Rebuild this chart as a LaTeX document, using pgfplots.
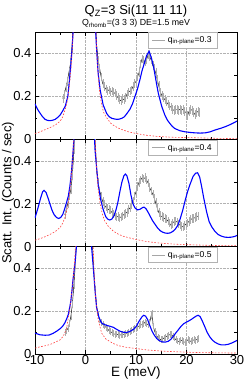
\documentclass[border=0pt]{standalone}
\usepackage{pgfplots}
\pgfplotsset{compat=1.18}
\usepackage{fontspec}
\setmainfont{Liberation Sans}
\pgfplotsset{
  panel/.style={
    scale only axis, width=202pt, height=107.3pt,
    xmin=-10, xmax=30, ymin=0, ymax=0.5,
    xtick={-10,0,10,20,30}, minor xtick={-5,5,15,25},
    ytick={0,0.2,0.4}, minor ytick={0.1,0.3},
    grid=major, major grid style={densely dotted, gray!60, line width=0.4pt},
    tick style={black, line width=0.5pt},
    major tick length=4pt, minor tick length=2.5pt,
    axis line style={line width=0.8pt},
    tick label style={font=\fontsize{13}{14}\selectfont},
    /pgf/number format/assume math mode=true,
    yticklabel style={/pgf/number format/fixed},
    legend image code/.code={\draw[##1] (0pt,0pt) -- (13pt,0pt);},
    legend style={at={(rel axis cs:0.906,0.997)}, anchor=north east,
      draw=gray!60, line width=0.8pt, font=\fontsize{8.6}{9}\selectfont,
      inner xsep=4pt, inner ysep=2pt, legend cell align=left},
  },
  blueline/.style={blue, line width=1.1pt, no marks},
  redline/.style={red!75, line width=0.6pt, no marks, dash pattern=on 1.6pt off 1.6pt},
  dataline/.style={black, line width=0.45pt, no marks,
    error bars/.cd, y dir=both, y fixed=#1, error mark=none,
    error bar style={gray!65, line width=0.3pt}},
}
\begin{document}
\begin{tikzpicture}
\path[use as bounding box] (-35pt,-349pt) rectangle (210pt,32pt);
% ---------------- top panel q=0.3
\begin{axis}[panel, at={(0pt,0pt)}, anchor=north west, xticklabels={},
  title={\fontsize{13}{14}\selectfont Q\textsubscript{Z}=3 Si(11 11 11)\\[-1pt]\fontsize{8.8}{10}\selectfont Q\textsubscript{rhomb}=(3 3 3) DE=1.5 meV},
  title style={align=center, yshift=-5pt}]
\addlegendimage{gray!70, line width=1pt}
\addlegendentry{q\textsubscript{in-plane}=0.3}
\addplot[dataline=0.02] coordinates {
(-4.5,0.19) (-4.2,0.21) (-3.9,0.24) (-3.6,0.27) (-3.3,0.31) (-3.0,0.35) (-2.7,0.42)
(-2.4,0.55) (-2.0,0.9) (-1,2.5) (0,3) (1,2.5) (1.6,1.0) (1.9,0.60) (2.2,0.44) (2.5,0.37)
(2.8,0.33) (3.1,0.29) (3.4,0.26) (3.7,0.245) (4.0,0.235) (4.3,0.225) (4.6,0.23) (4.9,0.22)
(5.2,0.225) (5.5,0.22) (5.8,0.215) (6.1,0.205) (6.4,0.195) (6.7,0.185) (7.0,0.18) (7.3,0.19)
(7.6,0.185) (7.9,0.195) (8.2,0.21) (8.5,0.22) (8.8,0.225) (9.1,0.23) (9.4,0.245) (9.7,0.26)
(10.0,0.27) (10.3,0.29) (10.6,0.31) (10.9,0.35) (11.2,0.375) (11.5,0.37) (11.8,0.36)
(12.1,0.37) (12.4,0.395) (12.7,0.385) (13.0,0.37) (13.3,0.345) (13.6,0.33) (13.9,0.31)
(14.2,0.28) (14.5,0.25) (14.8,0.22) (15.1,0.205) (15.4,0.195) (15.7,0.185) (16.0,0.175)
(16.3,0.165) (16.6,0.155) (16.9,0.15) (17.2,0.14) (17.5,0.135) (17.8,0.14) (18.1,0.14)
(18.4,0.135) (18.7,0.14) (19.0,0.135) (19.3,0.14) (19.6,0.13) (19.9,0.125) (20.2,0.11)
(20.5,0.13) (20.8,0.14) (21.1,0.135) (21.4,0.125) (21.7,0.115) (22.0,0.125) (22.3,0.13) (22.6,0.125)};
\addplot[blueline] coordinates {
(-10,0.165) (-9.5,0.14) (-9,0.122) (-8.5,0.105) (-8,0.093) (-7.5,0.088) (-7,0.087)
(-6.5,0.089) (-6,0.093) (-5.5,0.102) (-5,0.114) (-4.5,0.133) (-4,0.155) (-3.5,0.2)
(-3.2,0.27) (-2.9,0.35) (-2.7,0.41) (-2.4,0.52) (-2.1,0.75) (-1.5,2) (0,4) (1.2,2)
(1.6,0.9) (1.9,0.55) (2.2,0.42) (2.5,0.31) (2.9,0.23) (3.5,0.16) (4.2,0.12) (4.7,0.105)
(5.2,0.098) (5.7,0.095) (6.2,0.093) (6.7,0.094) (7.2,0.098) (7.7,0.105) (8.2,0.12)
(8.8,0.14) (9.3,0.165) (9.8,0.2) (10.3,0.235) (10.8,0.28) (11.2,0.32) (11.6,0.35)
(12.1,0.39) (12.6,0.41) (13.1,0.375) (13.5,0.335) (13.8,0.295) (14.1,0.255) (14.4,0.217)
(14.8,0.18) (15.1,0.153) (15.7,0.114) (16.2,0.09) (16.7,0.074) (17.2,0.06) (17.7,0.05)
(18.7,0.04) (19.7,0.035) (20.7,0.032) (21.7,0.03) (22.7,0.029) (23.7,0.03) (24.7,0.035)
(25.6,0.043) (26.6,0.05) (27.6,0.058) (28.6,0.068) (29.3,0.076) (30,0.085)};
\addplot[redline] coordinates {
(-10,0.027) (-9,0.035) (-8,0.045) (-7,0.055) (-6,0.066) (-5,0.085) (-4.5,0.105) (-4,0.14)
(-3.5,0.19) (-3.2,0.25) (-2.9,0.32) (-2.7,0.39) (-2.4,0.52) (-2,0.9) (0,5) (1.6,1.0)
(1.9,0.6) (2.2,0.42) (2.5,0.30) (2.8,0.22) (3.2,0.16) (3.6,0.125) (4.2,0.1) (5,0.075)
(5.5,0.066) (6.5,0.052) (7.5,0.043) (8.5,0.035) (10,0.027) (12,0.019) (14,0.014)
(16,0.011) (18,0.009) (20,0.008) (22,0.007) (25,0.005) (30,0.003)};
\end{axis}
% ---------------- middle panel q=0.4
\begin{axis}[panel, at={(0pt,-107.3pt)}, anchor=north west, xticklabels={}]
\addlegendimage{gray!70, line width=1pt}
\addlegendentry{q\textsubscript{in-plane}=0.4}
\addplot[dataline=0.02] coordinates {
(-4.1,0.148) (-3.8,0.175) (-3.5,0.2) (-3.2,0.235) (-2.9,0.265) (-2.6,0.33) (-2.3,0.45)
(-2.0,0.65) (-1,2) (0,3) (1,2) (1.5,0.8) (1.9,0.5) (2.2,0.36) (2.5,0.3) (2.8,0.26)
(3.1,0.235) (3.4,0.21) (3.7,0.195) (4.0,0.185) (4.3,0.178) (4.6,0.172) (4.9,0.17)
(5.2,0.16) (5.5,0.152) (5.8,0.145) (6.1,0.138) (6.4,0.14) (6.7,0.134) (7.0,0.138)
(7.3,0.142) (7.6,0.15) (7.9,0.155) (8.2,0.16) (8.5,0.172) (8.8,0.18) (9.1,0.195)
(9.4,0.21) (9.7,0.235) (10.0,0.255) (10.3,0.28) (10.6,0.3) (10.9,0.31) (11.2,0.32)
(11.5,0.315) (11.8,0.322) (12.1,0.31) (12.4,0.296) (12.7,0.275) (13.0,0.26) (13.3,0.245)
(13.6,0.225) (13.9,0.205) (14.2,0.18) (14.5,0.16) (14.8,0.145) (15.1,0.14) (15.4,0.135)
(15.7,0.13) (16.0,0.128) (16.3,0.12) (16.6,0.11) (16.9,0.1) (17.2,0.108) (17.5,0.116)
(17.8,0.12) (18.1,0.115) (18.4,0.105) (18.7,0.1) (19.0,0.095) (19.3,0.092) (19.6,0.098)
(19.9,0.105) (20.2,0.11) (20.5,0.118) (20.8,0.125) (21.1,0.13) (21.4,0.132) (21.7,0.135)
(22.0,0.14) (22.3,0.142)};
\addplot[blueline] coordinates {
(-10,0.134) (-9.4,0.181) (-8.9,0.225) (-8.5,0.255) (-8.2,0.262) (-7.8,0.252) (-7.4,0.225)
(-7.0,0.196) (-6.6,0.168) (-6.2,0.148) (-5.7,0.135) (-5.3,0.131) (-4.9,0.136) (-4.5,0.15)
(-4.1,0.178) (-3.7,0.21) (-3.4,0.235) (-3.1,0.28) (-2.9,0.32) (-2.7,0.37) (-2.5,0.43)
(-2.2,0.53) (-1.9,0.8) (-1,2.5) (0,4) (1,2.5) (1.4,0.9) (1.6,0.6) (1.9,0.446) (2.2,0.368)
(2.5,0.29) (3.0,0.22) (3.5,0.173) (4.0,0.14) (4.4,0.128) (4.8,0.124) (5.2,0.128)
(5.6,0.142) (6.0,0.168) (6.4,0.205) (6.8,0.255) (7.2,0.3) (7.6,0.33) (7.9,0.338)
(8.2,0.33) (8.6,0.295) (9.0,0.24) (9.4,0.2) (9.8,0.18) (10.3,0.171) (10.8,0.174)
(11.3,0.182) (11.6,0.184) (12.0,0.176) (12.4,0.16) (12.8,0.142) (13.3,0.12) (13.8,0.103)
(14.3,0.086) (14.8,0.074) (15.3,0.067) (15.8,0.063) (16.3,0.062) (16.8,0.064) (17.3,0.071)
(17.8,0.082) (18.3,0.1) (18.7,0.126) (19.2,0.165) (19.7,0.212) (20.2,0.255) (20.7,0.29)
(21.3,0.327) (21.8,0.342) (22.2,0.344) (22.6,0.325) (23.0,0.28) (23.4,0.228) (24.0,0.16)
(24.5,0.115) (25.0,0.092) (25.6,0.072) (26.3,0.056) (27.0,0.048) (27.6,0.044) (28.3,0.043)
(28.9,0.044) (29.5,0.047) (30,0.052)};
\addplot[redline] coordinates {
(-10,0.03) (-9,0.037) (-8,0.046) (-7,0.057) (-6,0.07) (-5,0.09) (-4.5,0.11) (-4,0.14)
(-3.5,0.19) (-3.1,0.26) (-2.8,0.33) (-2.5,0.43) (-2.2,0.56) (-1.9,0.9) (0,5) (1.5,1.0)
(1.8,0.6) (2.1,0.4) (2.5,0.27) (2.9,0.2) (3.3,0.155) (3.8,0.12) (4.5,0.095) (5.5,0.072)
(6.5,0.058) (7.5,0.048) (8.8,0.04) (10,0.033) (12,0.024) (14,0.018) (16,0.014)
(18,0.011) (20,0.009) (23,0.007) (26,0.005) (30,0.004)};
\end{axis}
% ---------------- bottom panel q=0.5
\begin{axis}[panel, at={(0pt,-214.6pt)}, anchor=north west,
  xticklabel style={yshift=2.5pt},
  xlabel={E (meV)},
  xlabel style={font=\fontsize{13.5}{14}\selectfont, yshift=4pt}]
\addlegendimage{gray!70, line width=1pt}
\addlegendentry{q\textsubscript{in-plane}=0.5}
\addplot[dataline=0.016] coordinates {
(-4.1,0.1) (-3.8,0.108) (-3.5,0.118) (-3.2,0.14) (-2.9,0.175) (-2.6,0.23) (-2.3,0.32)
(-2.0,0.42) (-1.7,0.6) (-1,2) (0,3) (0.8,2) (1.2,0.6) (1.6,0.4) (1.9,0.3) (2.2,0.225)
(2.5,0.18) (2.8,0.158) (3.1,0.145) (3.4,0.138) (3.7,0.13) (4.0,0.125) (4.3,0.118)
(4.6,0.11) (4.9,0.105) (5.2,0.1) (5.5,0.094) (5.8,0.092) (6.1,0.093) (6.4,0.09)
(6.7,0.087) (7.0,0.089) (7.3,0.09) (7.6,0.092) (7.9,0.095) (8.2,0.097) (8.5,0.1)
(8.8,0.103) (9.1,0.11) (9.4,0.115) (9.7,0.12) (10.0,0.122) (10.3,0.125) (10.6,0.13)
(10.9,0.135) (11.2,0.136) (11.5,0.14) (11.8,0.148) (12.1,0.142) (12.4,0.135) (12.7,0.145)
(13.0,0.178) (13.2,0.19) (13.4,0.13) (13.7,0.105) (14.0,0.09) (14.3,0.077) (14.6,0.072)
(14.9,0.066) (15.2,0.068) (15.5,0.074) (15.8,0.078) (16.1,0.083) (16.4,0.086) (16.7,0.09)
(17.0,0.092) (17.3,0.082) (17.6,0.074) (17.9,0.066) (18.2,0.06) (18.5,0.058) (18.8,0.065)
(19.1,0.062) (19.4,0.056) (19.7,0.055) (20.0,0.06) (20.3,0.066) (20.6,0.062) (20.9,0.058)
(21.2,0.062) (21.5,0.066) (21.8,0.064) (22.1,0.068) (22.4,0.07)};
\addplot[blueline] coordinates {
(-10,0.097) (-9,0.089) (-8,0.087) (-7.2,0.088) (-6.4,0.096) (-5.7,0.106) (-5.0,0.118)
(-4.5,0.13) (-4.1,0.144) (-3.7,0.165) (-3.4,0.184) (-3.1,0.22) (-2.9,0.246) (-2.7,0.29)
(-2.5,0.34) (-2.2,0.4) (-2.0,0.44) (-1.8,0.5) (-1.5,0.8) (0,4) (0.9,0.8) (1.2,0.5)
(1.6,0.387) (1.9,0.293) (2.2,0.215) (2.7,0.168) (3.2,0.144) (3.7,0.137) (4.2,0.133)
(4.8,0.129) (5.5,0.124) (6.2,0.114) (6.8,0.106) (7.5,0.101) (8.2,0.1) (8.8,0.105)
(9.5,0.114) (10.1,0.13) (10.6,0.152) (11.1,0.17) (11.5,0.18) (11.9,0.176) (12.3,0.16)
(12.8,0.128) (13.2,0.105) (13.6,0.088) (14.1,0.072) (14.6,0.062) (15.2,0.056) (15.8,0.055)
(16.4,0.059) (16.9,0.068) (17.4,0.082) (17.9,0.098) (18.4,0.113) (18.9,0.128) (19.4,0.14)
(19.9,0.147) (20.4,0.153) (20.9,0.16) (21.4,0.168) (21.9,0.176) (22.3,0.18) (22.7,0.174)
(23.1,0.155) (23.6,0.128) (24.1,0.1) (24.6,0.08) (25.1,0.065) (25.6,0.055) (26.3,0.046)
(26.9,0.042) (27.6,0.042) (28.3,0.045) (29.1,0.052) (30,0.063)};
\addplot[redline] coordinates {
(-10,0.027) (-9,0.033) (-8,0.038) (-7,0.044) (-6,0.054) (-5,0.066) (-4.5,0.08) (-4.1,0.097)
(-3.7,0.125) (-3.4,0.168) (-3.1,0.21) (-2.9,0.25) (-2.6,0.31) (-2.4,0.36) (-2.1,0.45)
(-1.9,0.55) (0,5) (1.4,0.6) (1.7,0.38) (2.0,0.26) (2.5,0.16) (3.2,0.097) (4.0,0.07)
(4.8,0.058) (5.8,0.045) (6.8,0.037) (8,0.031) (10,0.025) (12,0.019) (14,0.015) (16,0.012)
(18,0.01) (20,0.008) (23,0.006) (26,0.005) (30,0.004)};
\end{axis}
\node[rotate=90, font=\fontsize{13}{14}\selectfont] at (-27pt,-161pt) {Scatt. Int. (Counts / sec)};
\end{tikzpicture}
\end{document}
